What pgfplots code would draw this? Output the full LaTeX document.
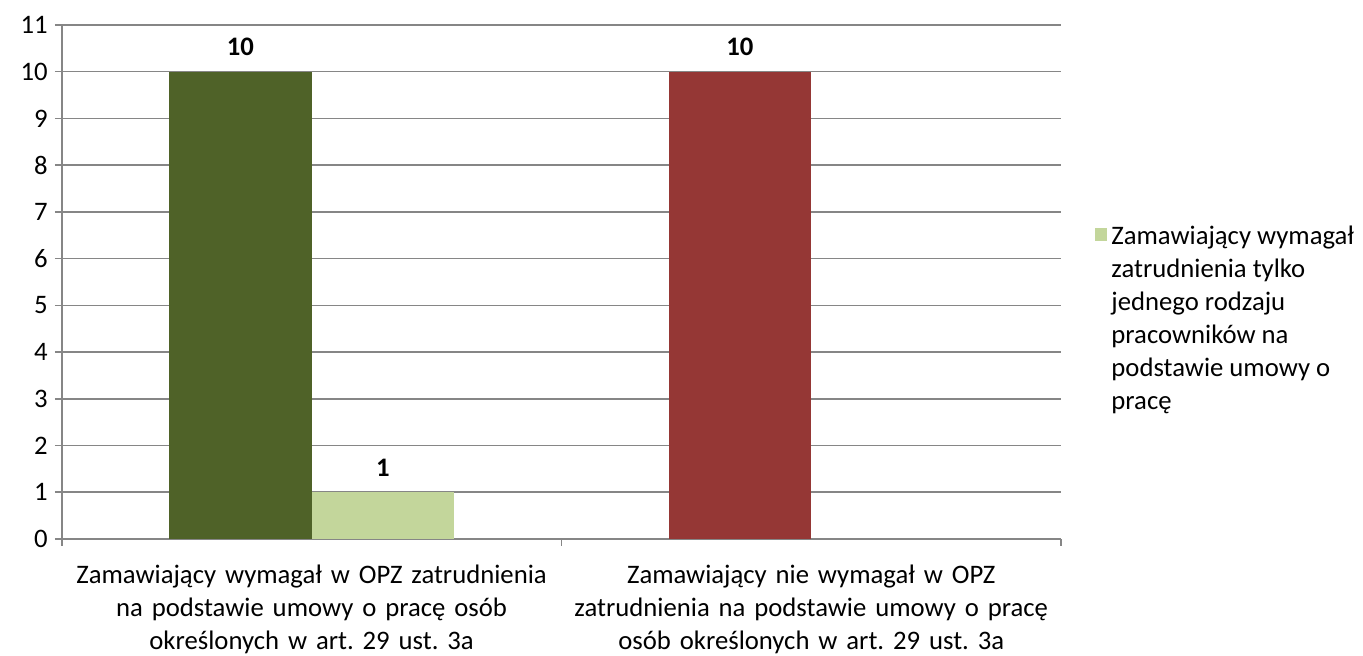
\documentclass[border=0pt]{standalone}
\usepackage{pgfplots}
\pgfplotsset{compat=1.18}
\usepackage{fontspec}
\setmainfont{Carlito}
\frenchspacing
\definecolor{dkgreen}{HTML}{4F6228}
\definecolor{ltgreen}{HTML}{C3D69B}
\definecolor{dkred}{HTML}{953735}
\definecolor{gridc}{HTML}{868686}
\newcommand\fsz{\fontsize{13.4}{16.6}\selectfont}
\begin{document}
\begin{tikzpicture}
\begin{axis}[
  scale only axis, width=501.5pt, height=258pt,
  xmin=-0.5, xmax=1.5, ymin=0, ymax=11,
  axis x line*=bottom, axis y line*=left,
  axis line style={-, draw=gridc, line width=0.8pt},
  xtick={-0.5,0.5,1.5}, x tick label as interval,
  xticklabels={{Zamawiający wymagał w OPZ zatrudnienia\\na podstawie umowy o pracę osób\\określonych w art. 29 ust. 3a},
               {Zamawiający nie wymagał w OPZ\\zatrudnienia na podstawie umowy o pracę\\osób określonych w art. 29 ust. 3a}},
  xticklabel style={align=center, font=\fsz, text width=250pt, yshift=-6pt},
  ytick={0,1,...,11}, ymajorgrids, grid style={gridc, line width=0.8pt},
  tick align=outside, major tick length=3.5pt, tick style={gridc, line width=0.8pt},
  yticklabel style={font=\fsz},
  /pgf/number format/assume math mode=true,
  clip=false,
  legend style={at={(rel axis cs:1.033,0.619)}, anchor=north west, draw=none, font=\fsz, inner sep=0pt,
    cells={anchor=north west, align=left}},
  legend image code/.code={\fill[ltgreen] (0pt,-10.1pt) rectangle (6.5pt,-3.6pt);},
]
\addplot[ybar, bar width=0.2854, bar shift=-0.1427, fill=dkgreen, draw=none, forget plot,
  nodes near coords, nodes near coords style={font=\fsz\bfseries, text=black, yshift=4.5pt, xshift=-35.78pt}]
  coordinates {(0,10)};
\addplot[ybar, bar width=0.2854, bar shift=-0.1427, fill=dkred, draw=none, forget plot,
  nodes near coords, nodes near coords style={font=\fsz\bfseries, text=black, yshift=4.5pt, xshift=-35.78pt}]
  coordinates {(1,10)};
\addplot[ybar, bar width=0.2854, bar shift=0.1427, fill=ltgreen, draw=none,
  nodes near coords, nodes near coords style={font=\fsz\bfseries, text=black, yshift=4.5pt, xshift=35.78pt}]
  coordinates {(0,1)};
\addlegendentry{{Zamawiający wymagał\\zatrudnienia tylko\\jednego rodzaju\\pracowników na\\podstawie umowy o\\pracę}}
\coordinate (bl) at (rel axis cs:-0.0618,-0.2265);
\coordinate (tr) at (rel axis cs:1.3021,1.0484);
\end{axis}
\pgfresetboundingbox
\path[use as bounding box] (bl) rectangle (tr);
\end{tikzpicture}
\end{document}
